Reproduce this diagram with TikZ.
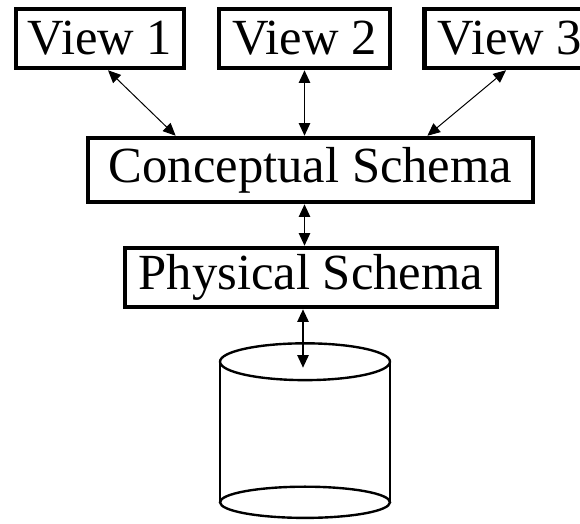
\documentclass[tikz,border=0pt]{standalone}
\usepackage{fontspec}
\setmainfont{Liberation Serif}
\usetikzlibrary{arrows.meta,positioning,calc}

\begin{document}
\begin{tikzpicture}[
  arr/.style={{Triangle[length=9pt,width=8pt]}-{Triangle[length=9pt,width=8pt]}, line width=1.3pt},
  thinarr/.style={arr, line width=0.7pt},
  sbox/.style={draw, line width=3.2pt, fill=white, inner sep=0pt,
               minimum height=1.475cm, font=\fontsize{36}{42}\selectfont},
  dbline/.style={line width=1.7pt},
]
\useasboundingbox (0,0) rectangle (14.5,-13.075);

\node[sbox, minimum width=4.2cm]   (view1) at (2.5,-0.9625)    {View 1};
\node[sbox, minimum width=4.275cm] (view2) at (7.6125,-0.9625) {View 2};
\node[sbox, minimum width=4.275cm] (view3) at (12.75,-0.9625)  {View 3};

\node[sbox, minimum width=11.125cm, minimum height=1.6cm] (concept) at (7.7625,-4.25)
  {Conceptual Schema};
\node[sbox, minimum width=9.3cm] (phys) at (7.775,-6.9375)
  {Physical Schema};

% database cylinder
\node[minimum width=4.25cm, minimum height=3.5cm, inner sep=0pt] (db) at (7.625,-10.8) {};
\draw[dbline] (db.north) ellipse (2.125cm and 0.46cm);
\draw[dbline] (db.south) ellipse (2.125cm and 0.39cm);
\draw[dbline] (db.north west) -- (db.south west);
\draw[dbline] (db.north east) -- (db.south east);

\draw[thinarr] ([xshift=0.2cm]view1.south) -- ($(concept.north west)!0.2!(concept.north east)$);
\draw[arr] (view2.south) -- (view2.south |- concept.north);
\draw[thinarr] ([xshift=-0.1cm]view3.south) -- ($(concept.north west)!0.76!(concept.north east)$);
\draw[arr] ([xshift=-0.15cm]concept.south) -- ([xshift=-0.15cm]concept.south |- phys.north);
\draw[arr] ([xshift=-0.2cm]phys.south) -- ([xshift=-0.2cm,yshift=-0.15cm]phys.south |- db.north);
\end{tikzpicture}
\end{document}
